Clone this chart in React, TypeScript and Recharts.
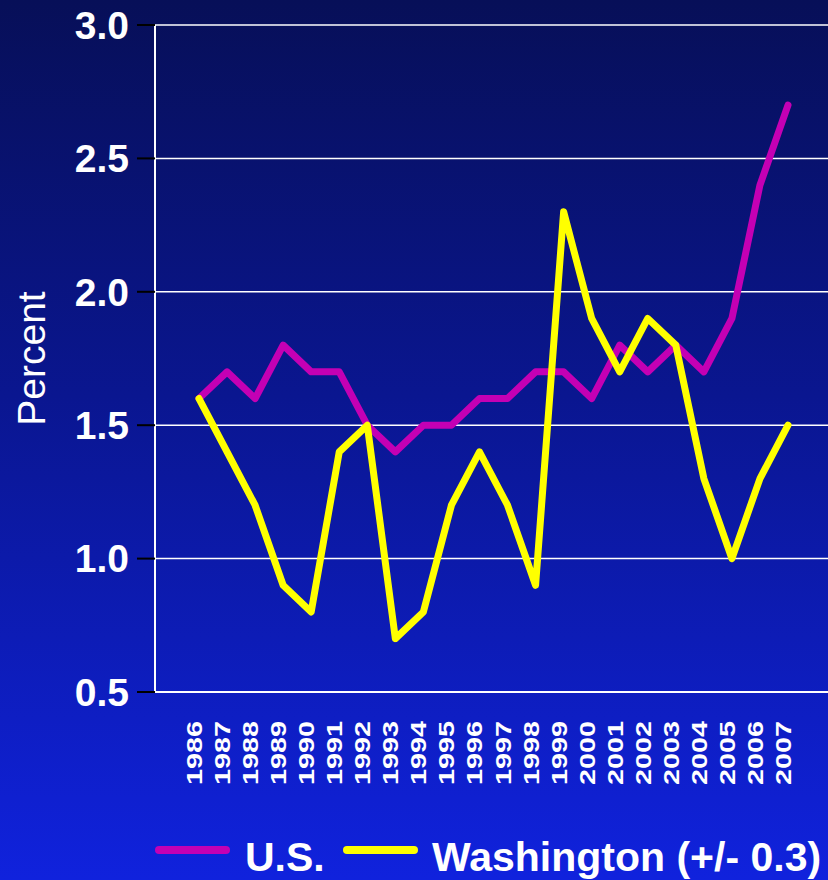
import React from 'react';
import {
  LineChart,
  Line,
  XAxis,
  YAxis,
  CartesianGrid,
  Legend,
} from 'recharts';

const years = [
  1986, 1987, 1988, 1989, 1990, 1991, 1992, 1993, 1994, 1995, 1996,
  1997, 1998, 1999, 2000, 2001, 2002, 2003, 2004, 2005, 2006, 2007,
];
const usValues = [
  1.6, 1.7, 1.6, 1.8, 1.7, 1.7, 1.5, 1.4, 1.5, 1.5, 1.6,
  1.6, 1.7, 1.7, 1.6, 1.8, 1.7, 1.8, 1.7, 1.9, 2.4, 2.7,
];
const waValues = [
  1.6, 1.4, 1.2, 0.9, 0.8, 1.4, 1.5, 0.7, 0.8, 1.2, 1.4,
  1.2, 0.9, 2.3, 1.9, 1.7, 1.9, 1.8, 1.3, 1.0, 1.3, 1.5,
];
const yTicks = [0.5, 1.0, 1.5, 2.0, 2.5, 3.0];

const data = years.map((year, i) => ({ year, us: usValues[i], wa: waValues[i] }));

const FONT = "Arial, 'Liberation Sans', sans-serif";
const MAGENTA = '#c400b4';
const YELLOW = '#ffff00';

// rotated year labels, squeezed to the reference's length
const YearTick = ({ x, y, payload }: { x?: number; y?: number; payload?: { value: number } }) => (
  <text
    x={0}
    y={0}
    transform={`translate(${(x ?? 0) + 3}, ${(y ?? 0) + 21}) rotate(-90)`}
    textAnchor="end"
    fill="#fff"
    fontSize={22.5}
    fontWeight="bold"
    fontFamily={FONT}
    textLength={64}
    lengthAdjust="spacingAndGlyphs"
  >
    {payload?.value}
  </text>
);

const LegendContent = () => (
  <div style={{ position: 'relative', height: 60, fontFamily: FONT, fontWeight: 'bold', fontSize: 41, color: '#fff' }}>
    <div style={{ position: 'absolute', left: 155, top: 26, width: 75, height: 8, borderRadius: 4, background: MAGENTA }} />
    <div style={{ position: 'absolute', left: 245, top: 15, lineHeight: '44px' }}>U.S.</div>
    <div style={{ position: 'absolute', left: 343, top: 26, width: 75, height: 8, borderRadius: 4, background: YELLOW }} />
    <div style={{ position: 'absolute', left: 432, top: 15, lineHeight: '44px', whiteSpace: 'nowrap' }}>
      Washington (+/- 0.3)
    </div>
  </div>
);

export default function App() {
  return (
    <div
      style={{
        position: 'absolute',
        left: 0,
        top: 0,
        width: 828,
        height: 880,
        overflow: 'hidden',
        background: 'linear-gradient(to bottom, #070f58 0%, #0a1690 45%, #1022dd 100%)',
      }}
    >
      <LineChart width={828} height={880} data={data} margin={{ top: 25, right: 0, bottom: 0, left: 0 }}>
        <CartesianGrid stroke="#fff" strokeWidth={1.5} vertical={false} />
        <XAxis
          dataKey="year"
          type="number"
          domain={[1984.431, 2008.426]}
          ticks={years}
          allowDataOverflow
          height={128}
          stroke="#fff"
          strokeWidth={2}
          tickLine={false}
          tick={<YearTick />}
          interval={0}
        />
        <YAxis
          domain={[0.5, 3]}
          ticks={yTicks}
          width={155}
          stroke="#fff"
          strokeWidth={2}
          tickSize={18}
          tickMargin={8}
          tickLine={{ stroke: '#000', strokeWidth: 2 }}
          tick={{ fill: '#fff', fontSize: 39, fontWeight: 'bold', fontFamily: FONT }}
          tickFormatter={(v: number) => v.toFixed(1)}
          label={{
            value: 'Percent',
            angle: -90,
            position: 'insideLeft',
            offset: 0,
            dx: 31,
            fill: '#fff',
            fontSize: 39,
            fontFamily: FONT,
            style: { textAnchor: 'middle' },
          }}
        />
        <Legend verticalAlign="bottom" align="left" content={<LegendContent />} wrapperStyle={{ left: 0, width: 828 }} />
        <Line
          dataKey="us"
          name="U.S."
          stroke={MAGENTA}
          strokeWidth={7}
          strokeLinecap="round"
          strokeLinejoin="round"
          dot={false}
          isAnimationActive={false}
        />
        <Line
          dataKey="wa"
          name="Washington (+/- 0.3)"
          stroke={YELLOW}
          strokeWidth={7}
          strokeLinecap="round"
          strokeLinejoin="round"
          dot={false}
          isAnimationActive={false}
        />
      </LineChart>
    </div>
  );
}
